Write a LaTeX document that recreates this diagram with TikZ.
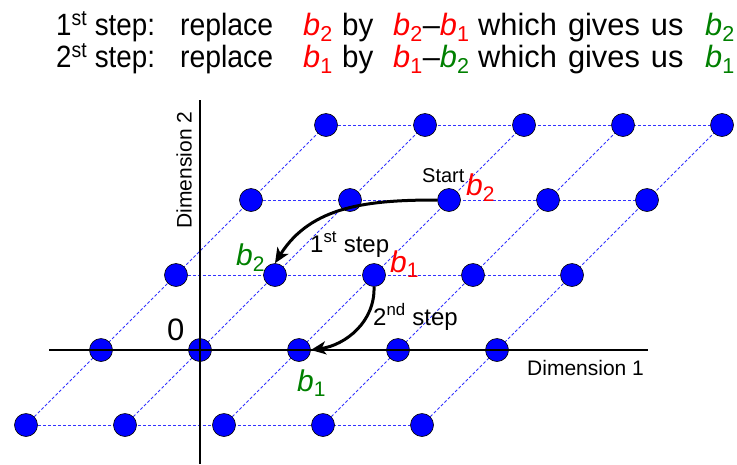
\documentclass[tikz,border=0pt]{standalone}
\usepackage{fontspec}
\setmainfont{Liberation Sans}
\usetikzlibrary{arrows.meta}
\definecolor{bred}{RGB}{255,0,0}
\definecolor{bgreen}{RGB}{0,128,0}
\definecolor{latc}{RGB}{50,50,255}
\definecolor{ptc}{RGB}{0,0,255}
\pgfdeclarelayer{background}
\pgfsetlayers{background,main}
\newcommand{\bv}[2]{\textcolor{#1}{\textit{b}\textsubscript{#2}}}
\newcommand{\fs}[1]{\fontsize{#1}{#1}\selectfont}
\newcommand{\squeeze}[2]{\scalebox{#1}[1]{#2}}
\begin{document}
\begin{tikzpicture}[x=1pt,y=-1pt,
  lpt/.style={circle,fill=ptc,draw=black,line width=0.6pt,minimum size=23pt,inner sep=0pt},
  latline/.style={draw=latc,dash pattern=on 3pt off 2pt,line width=0.8pt},
  axis/.style={line width=1.8pt},
  arr/.style={line width=3pt,-{Stealth[length=15pt,width=13pt,inset=4pt]}},
  lbl/.style={inner sep=0pt,anchor=base west},
  toptext/.style={inner sep=0pt,anchor=base west,font=\fs{30.8}}]
\useasboundingbox (0,0) rectangle (737,464);
% top text, line 1
\node[toptext] (a1) at (56,35) {\squeeze{0.9}{1\textsuperscript{st} step:}};
\node[toptext] (a2) at (180,35) {\squeeze{0.92}{replace}};
\node[toptext] (a3) at (303,35) {\bv{bred}{2}};
\node[toptext] (a4) at (342,35) {\squeeze{0.96}{by}};
\node[toptext] (a5) at (393,35) {\bv{bred}{2}–\bv{bred}{1}};
\node[toptext] (a6) at (478,35) {which\hspace{0.36em}gives\hspace{0.36em}us};
\node[toptext] (a7) at (705,35) {\bv{bgreen}{2}};
% top text, line 2
\node[toptext] (c1) at (56,67) {\squeeze{0.9}{2\textsuperscript{st} step:}};
\node[toptext] (c2) at (180,67) {\squeeze{0.92}{replace}};
\node[toptext] (c3) at (303,67) {\bv{bred}{1}};
\node[toptext] (c4) at (342,67) {\squeeze{0.96}{by}};
\node[toptext] (c5) at (393,67) {\bv{bred}{1}–\bv{bgreen}{2}};
\node[toptext] (c6) at (478,67) {which\hspace{0.36em}gives\hspace{0.36em}us};
\node[toptext] (c7) at (705,67) {\bv{bgreen}{1}};
% lattice points
\foreach \i in {0,...,4}{
  \foreach \j in {0,...,4}{
    \node[lpt] (n\i\j) at ({200+99*(\i-1)+75*(\j-1)},{350-75*(\j-1)}) {};
  }
}
% lattice lines
\begin{pgfonlayer}{background}
\foreach \k in {0,...,4}{
  \draw[latline] (n0\k) -- (n4\k);
  \draw[latline] (n\k0) -- (n\k4);
}
\end{pgfonlayer}
% axes
\coordinate (xl) at (49,350);
\coordinate (xr) at (648,350);
\coordinate (yt) at (200,100);
\coordinate (yb) at (200,464);
\draw[axis] (xl) -- (xr);
\draw[axis] (yt) -- (yb);
% axis labels
\node[rotate=90,font=\fs{21},inner sep=0pt] (d2) at (184,170) {Dimension 2};
\node[lbl,font=\fs{21}] (d1) at (527,375) {Dimension 1};
\node[lbl,font=\fs{31}] (zero) at (167,340) {0};
% labels
\node[lbl,font=\fs{20}] (start) at (422,182) {Start};
\node[lbl,font=\fs{30}] (b2r) at (466,195) {\bv{bred}{2}};
\node[lbl,font=\fs{30}] (b2g) at (236,265) {\bv{bgreen}{2}};
\node[lbl,font=\fs{30}] (b1r) at (390,272) {\bv{bred}{1}};
\node[lbl,font=\fs{30}] (b1g) at (297,391) {\bv{bgreen}{1}};
\node[lbl,font=\fs{24}] (s1) at (310,252) {1\textsuperscript{st} step};
\node[lbl,font=\fs{24}] (s2) at (373,325) {2\textsuperscript{nd} step};
% arrows
\draw[arr] (n23.west) to[out=180,in=58] (n12.north);
\draw[arr] (n22.south) to[out=-88,in=8] (n21.east);
\end{tikzpicture}
\end{document}
